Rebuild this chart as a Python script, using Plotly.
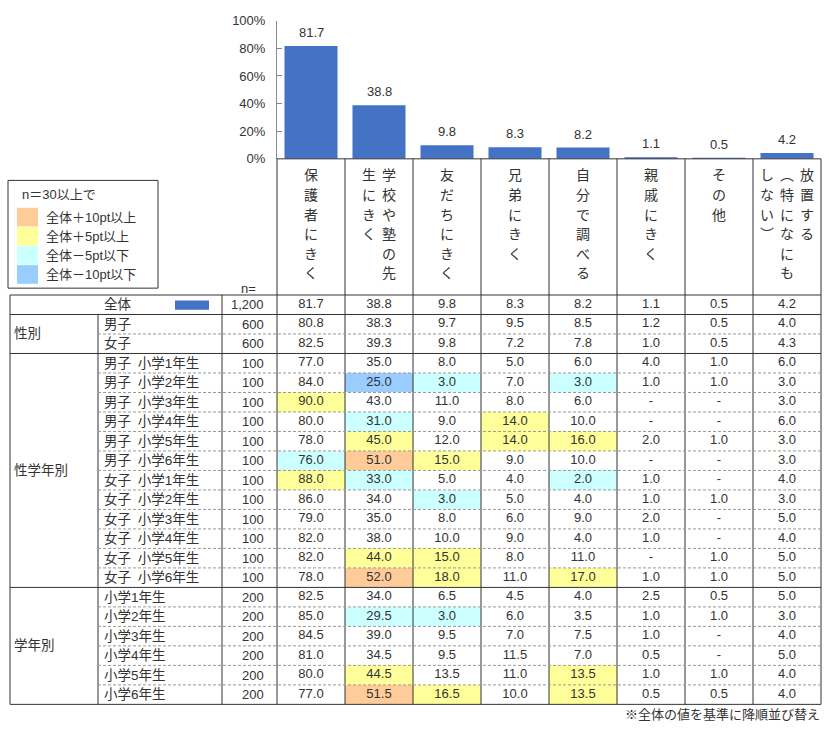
import plotly.graph_objects as go

# ---------------- data ----------------
categories = ["保護者にきく", "学校や塾の先生にきく", "友だちにきく", "兄弟にきく",
              "自分で調べる", "親戚にきく", "その他", "放置する（特になにもしない）"]
header_lines = [["保護者にきく"], ["学校や塾の先", "生にきく"], ["友だちにきく"], ["兄弟にきく"],
                ["自分で調べる"], ["親戚にきく"], ["その他"], ["放置する", "（特になにも", "しない）"]]
total_values = [81.7, 38.8, 9.8, 8.3, 8.2, 1.1, 0.5, 4.2]

row_labels = ["全体", "男子", "女子",
              "男子\u2002小学1年生", "男子\u2002小学2年生", "男子\u2002小学3年生", "男子\u2002小学4年生",
              "男子\u2002小学5年生", "男子\u2002小学6年生", "女子\u2002小学1年生", "女子\u2002小学2年生",
              "女子\u2002小学3年生", "女子\u2002小学4年生", "女子\u2002小学5年生", "女子\u2002小学6年生",
              "小学1年生", "小学2年生", "小学3年生", "小学4年生", "小学5年生", "小学6年生"]
row_n = [1200, 600, 600] + [100] * 12 + [200] * 6
row_values = [
    [81.7, 38.8, 9.8, 8.3, 8.2, 1.1, 0.5, 4.2],
    [80.8, 38.3, 9.7, 9.5, 8.5, 1.2, 0.5, 4.0],
    [82.5, 39.3, 9.8, 7.2, 7.8, 1.0, 0.5, 4.3],
    [77.0, 35.0, 8.0, 5.0, 6.0, 4.0, 1.0, 6.0],
    [84.0, 25.0, 3.0, 7.0, 3.0, 1.0, 1.0, 3.0],
    [90.0, 43.0, 11.0, 8.0, 6.0, None, None, 3.0],
    [80.0, 31.0, 9.0, 14.0, 10.0, None, None, 6.0],
    [78.0, 45.0, 12.0, 14.0, 16.0, 2.0, 1.0, 3.0],
    [76.0, 51.0, 15.0, 9.0, 10.0, None, None, 3.0],
    [88.0, 33.0, 5.0, 4.0, 2.0, 1.0, None, 4.0],
    [86.0, 34.0, 3.0, 5.0, 4.0, 1.0, 1.0, 3.0],
    [79.0, 35.0, 8.0, 6.0, 9.0, 2.0, None, 5.0],
    [82.0, 38.0, 10.0, 9.0, 4.0, 1.0, None, 4.0],
    [82.0, 44.0, 15.0, 8.0, 11.0, None, 1.0, 5.0],
    [78.0, 52.0, 18.0, 11.0, 17.0, 1.0, 1.0, 5.0],
    [82.5, 34.0, 6.5, 4.5, 4.0, 2.5, 0.5, 5.0],
    [85.0, 29.5, 3.0, 6.0, 3.5, 1.0, 1.0, 3.0],
    [84.5, 39.0, 9.5, 7.0, 7.5, 1.0, None, 4.0],
    [81.0, 34.5, 9.5, 11.5, 7.0, 0.5, None, 5.0],
    [80.0, 44.5, 13.5, 11.0, 13.5, 1.0, 1.0, 4.0],
    [77.0, 51.5, 16.5, 10.0, 13.5, 0.5, 0.5, 4.0],
]
groups = [("性別", 1, 2), ("性学年別", 3, 14), ("学年別", 15, 20)]
legend_items = ["全体＋10pt以上", "全体＋5pt以上", "全体－5pt以下", "全体－10pt以下"]
legend_colors = ["#FFCC99", "#FFFF99", "#CCFFFF", "#99CCFF"]
footnote = "※全体の値を基準に降順並び替え"

# ---------------- layout constants ----------------
W, H = 829, 735
X_LEFT, X_SUB, X_N, X_DATA, COL_W = 10, 98, 222, 277, 68
NCOL = len(categories)
X_RIGHT = X_DATA + COL_W * NCOL
Y_BAR_TOP, Y_HEAD = 14, 155
Y_TAB = 294
ROW_H = 19.9
NROW = len(row_labels)
Y_BOT = Y_TAB + ROW_H * NROW

FONT = "Liberation Sans, Noto Sans CJK JP, sans-serif"
TXT = "#333333"
LINE = "#333333"
BAR = "#4472C4"


def px(x):
    return x / W


def py(y):
    return 1 - y / H


def row_y(i):
    return Y_TAB + i * ROW_H


# highlight codes: 0 = -10pt, 1 = -5pt, 2 = +5pt, 3 = +10pt
z = []
for r, vals in enumerate(row_values):
    zr = []
    for c, v in enumerate(vals):
        code = None
        if r > 0 and row_n[r] >= 30 and v is not None:
            d = round(v - total_values[c], 1)
            if d >= 10:
                code = 3
            elif d >= 5:
                code = 2
            elif d <= -10:
                code = 0
            elif d <= -5:
                code = 1
        zr.append(code)
    z.append(zr)

fig = go.Figure()

fig.add_trace(go.Bar(x=list(range(NCOL)), y=total_values, width=0.78,
                     marker=dict(color=BAR, line=dict(width=0)),
                     hoverinfo="skip", xaxis="x", yaxis="y"))

cs = [[0, legend_colors[3]], [0.25, legend_colors[3]],
      [0.25, legend_colors[2]], [0.5, legend_colors[2]],
      [0.5, legend_colors[1]], [0.75, legend_colors[1]],
      [0.75, legend_colors[0]], [1, legend_colors[0]]]
fig.add_trace(go.Heatmap(x=list(range(NCOL)), y=list(range(NROW)), z=z,
                         zmin=-0.5, zmax=3.5, colorscale=cs, showscale=False,
                         hoverinfo="skip", xaxis="x2", yaxis="y2"))

tx, ty, tt = [], [], []
for r, vals in enumerate(row_values):
    for c, v in enumerate(vals):
        tx.append(c)
        ty.append(r)
        tt.append("-" if v is None else f"{v:.1f}")
fig.add_trace(go.Scatter(x=tx, y=ty, text=tt, mode="text",
                         textfont=dict(size=13, color=TXT, family=FONT),
                         hoverinfo="skip", cliponaxis=False, xaxis="x2", yaxis="y2"))

ann = []
# bar labels
for i, v in enumerate(total_values):
    ann.append(dict(x=i, y=v, xref="x", yref="y", text=f"{v:.1f}", showarrow=False,
                    yanchor="bottom", yshift=4, font=dict(size=13, color=TXT)))

# vertical header text
for c, lines in enumerate(header_lines):
    cx = X_DATA + COL_W * (c + 0.5)
    nl = len(lines)
    for li, line in enumerate(lines):
        lx = cx + (nl - 1) / 2 * 20 - li * 20
        for k, ch in enumerate(line):
            ch = ch.replace("（", "\uFE35").replace("）", "\uFE36")
            ann.append(dict(x=px(lx), y=py(172 + k * 20), xref="paper", yref="paper",
                            text=ch, showarrow=False, xanchor="center", yanchor="middle",
                            font=dict(size=14, color=TXT)))

ann.append(dict(x=px(258), y=py(287), xref="paper", yref="paper", text="n=", showarrow=False,
                xanchor="right", yanchor="middle", font=dict(size=13, color=TXT)))

# row labels / n
for r, lab in enumerate(row_labels):
    ann.append(dict(x=px(102), y=r, xref="paper", yref="y2", text=lab, showarrow=False,
                    xanchor="left", yanchor="middle", font=dict(size=13.5, color=TXT)))
    ann.append(dict(x=px(266), y=r, xref="paper", yref="y2", text=f"{row_n[r]:,}", showarrow=False,
                    xanchor="right", yanchor="middle", font=dict(size=13, color=TXT)))
for g, a, b in groups:
    ann.append(dict(x=px(12), y=(a + b) / 2, xref="paper", yref="y2", text=g, showarrow=False,
                    xanchor="left", yanchor="middle", font=dict(size=13.5, color=TXT)))

# legend box
ann.append(dict(x=px(20), y=py(191), xref="paper", yref="paper", text="n＝30以上で", showarrow=False,
                xanchor="left", yanchor="middle", font=dict(size=13, color=TXT)))
for k, (t, col) in enumerate(zip(legend_items, legend_colors)):
    ann.append(dict(x=px(44), y=py(214.5 + k * 19.5), xref="paper", yref="paper", text=t,
                    showarrow=False, xanchor="left", yanchor="middle", font=dict(size=13, color=TXT)))

ann.append(dict(x=px(X_RIGHT + 1), y=py(722), xref="paper", yref="paper", text=footnote,
                showarrow=False, xanchor="right", yanchor="middle", font=dict(size=13, color=TXT)))

shapes = []


def hline(x0, x1, y, dash=None, color=LINE):
    ln = dict(color=color, width=1)
    if dash:
        ln["dash"] = dash
    shapes.append(dict(type="line", xref="paper", yref="paper", x0=px(x0), x1=px(x1),
                       y0=py(y), y1=py(y), line=ln))


def vline(x, y0, y1):
    shapes.append(dict(type="line", xref="paper", yref="paper", x0=px(x), x1=px(x),
                       y0=py(y0), y1=py(y1), line=dict(color=LINE, width=1)))


hline(X_DATA, X_RIGHT, Y_HEAD)
for k in range(NCOL + 1):
    vline(X_DATA + COL_W * k, Y_HEAD, Y_BOT)
vline(X_LEFT, Y_TAB, Y_BOT)
vline(X_SUB, row_y(1), Y_BOT)
vline(X_N, Y_TAB, Y_BOT)
solid_rows = {0, 1, NROW}
for g, a, b in groups:
    solid_rows.add(a)
    solid_rows.add(b + 1)
for i in range(NROW + 1):
    if i in solid_rows:
        hline(X_LEFT, X_RIGHT, row_y(i))
    else:
        hline(X_SUB, X_RIGHT, row_y(i), dash="3px,2px", color="#999999")

# 全体 swatch
shapes.append(dict(type="rect", xref="paper", yref="paper", x0=px(175), x1=px(209),
                   y0=py(299.5), y1=py(309), fillcolor=BAR, line=dict(width=0)))
# legend
shapes.append(dict(type="rect", xref="paper", yref="paper", x0=px(8), x1=px(158),
                   y0=py(177), y1=py(287), line=dict(color=LINE, width=1), fillcolor="rgba(0,0,0,0)"))
for k, col in enumerate(legend_colors):
    shapes.append(dict(type="rect", xref="paper", yref="paper", x0=px(17), x1=px(38),
                       y0=py(205 + k * 19.5), y1=py(224 + k * 19.5), fillcolor=col, line=dict(width=0)))

fig.update_layout(
    width=W, height=H, margin=dict(l=0, r=0, t=0, b=0),
    paper_bgcolor="white", plot_bgcolor="rgba(0,0,0,0)", showlegend=False,
    font=dict(family=FONT, color=TXT, size=13),
    xaxis=dict(domain=[px(X_DATA), px(X_RIGHT)], range=[-0.5, NCOL - 0.5],
               showticklabels=False, showgrid=False, zeroline=False, showline=False, ticks=""),
    yaxis=dict(domain=[py(Y_HEAD), py(Y_BAR_TOP)], range=[0, 100], dtick=20, ticksuffix="%",
               ticks="inside", ticklen=5, tickcolor="#888888", showline=True, linecolor="#888888",
               linewidth=1, showgrid=False, zeroline=False, ticklabelstandoff=8,
               ticklabeloverflow="allow", tickfont=dict(size=13, color=TXT)),
    xaxis2=dict(domain=[px(X_DATA), px(X_RIGHT)], range=[-0.5, NCOL - 0.5], anchor="y2",
                showticklabels=False, showgrid=False, zeroline=False, showline=False, ticks=""),
    yaxis2=dict(domain=[py(Y_BOT), py(Y_TAB)], range=[NROW - 0.5, -0.5], anchor="x2",
                showticklabels=False, showgrid=False, zeroline=False, showline=False, ticks=""),
    annotations=ann, shapes=shapes,
)

fig.write_html("out.html", config={"displayModeBar": False},
               post_script="document.body.style.margin='0';document.body.style.overflow='hidden';")
